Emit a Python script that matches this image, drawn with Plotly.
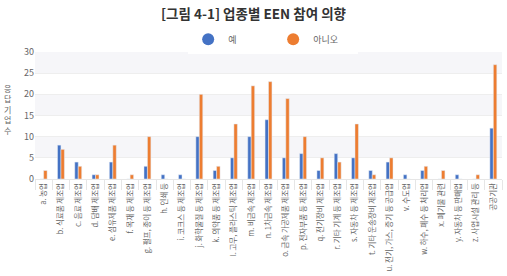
import plotly.graph_objects as go

categories = ["a. 농업", "b. 식료품 제조업", "c. 음료 제조업", "d. 담배 제조업", "e. 섬유제품 제조업",
              "f. 목재 등 제조업", "g. 펄프, 종이 등 제조업", "h. 인쇄 등", "i. 코크스 등 제조업",
              "j. 화학물질 등 제조업", "k. 의약품 등 제조업", "l. 고무, 플라스틱 제조업", "m. 비금속 제조업",
              "n. 1차금속 제조업", "o. 금속 가공제품 제조업", "p. 전자부품 등 제조업", "q. 전기장비 제조업",
              "r. 기타 기계 등 제조업", "s. 자동차 등 제조업", "t. 기타 운송장비 제조업",
              "u. 전기, 가스, 증기 등 공급업", "v. 수도업", "w. 하수, 폐수 등 처리업", "x. 폐기물 관련",
              "y. 자동차 등 판매업", "z. 사업시설 관리 등", "공공기관"]
yes_vals = [0, 8, 4, 1, 4, 0, 3, 1, 1, 10, 2, 5, 10, 14, 5, 6, 2, 6, 5, 2, 4, 1, 2, 0, 1, 0, 12]
no_vals = [2, 7, 3, 1, 8, 1, 10, 0, 0, 20, 3, 13, 22, 23, 19, 10, 5, 4, 13, 1, 5, 0, 3, 2, 0, 1, 27]
series_names = ["예", "아니오"]
y_ticks = [0, 5, 10, 15, 20, 25, 30]

blue = "#4472C4"
orange = "#ED7D31"
font = "Noto Sans CJK KR"

fig = go.Figure()
fig.add_trace(go.Bar(x=categories, y=yes_vals, name=series_names[0], marker_color=blue, showlegend=False))
fig.add_trace(go.Bar(x=categories, y=no_vals, name=series_names[1], marker_color=orange, showlegend=False))
for nm, col in zip(series_names, [blue, orange]):
    fig.add_trace(go.Scatter(x=[None], y=[None], mode="markers", name=nm,
                             marker=dict(symbol="circle", size=6, color=col)))

for lo in [5, 15, 25]:
    fig.add_shape(type="rect", xref="paper", yref="y", x0=0, x1=1, y0=lo, y1=lo + 5,
                  fillcolor="#f6f6f9", line_width=0, layer="below")

fig.update_layout(
    width=507, height=276,
    margin=dict(l=35, r=5, t=52, b=91),
    paper_bgcolor="white", plot_bgcolor="white",
    font=dict(family=font, size=8, color="#666"),
    title=dict(text="<b>[그림 4-1] 업종별 EEN 참여 의향</b>", x=0.5, xanchor="center",
               y=0.95, yanchor="middle", font=dict(family=font, size=13.5, color="#333")),
    barmode="group", bargap=0.6, bargroupgap=0,
    legend=dict(orientation="h", x=0.51, xanchor="center", y=1.1, yanchor="middle",
                font=dict(size=9, color="#666"), entrywidth=40, itemsizing="constant"),
    xaxis=dict(tickangle=-90, tickfont=dict(size=7.5, color="#666"), ticks="outside",
               tickson="boundaries", ticklen=10, tickcolor="#e6e6e6", showgrid=False,
               showline=True, linecolor="#e6e6e6", linewidth=1),
    yaxis=dict(range=[0, 30], tickvals=y_ticks, showgrid=True, gridcolor="#eeeeee",
               zeroline=False, tickfont=dict(size=9, color="#666"), ticklen=0),
)
fig.add_annotation(text="<br>".join("응답기업수"), xref="paper", yref="paper", x=-0.058, y=0.55,
                   xanchor="center", yanchor="middle", showarrow=False, textangle=0,
                   font=dict(size=8, color="#666", family=font))
fig.write_html("out.html")
